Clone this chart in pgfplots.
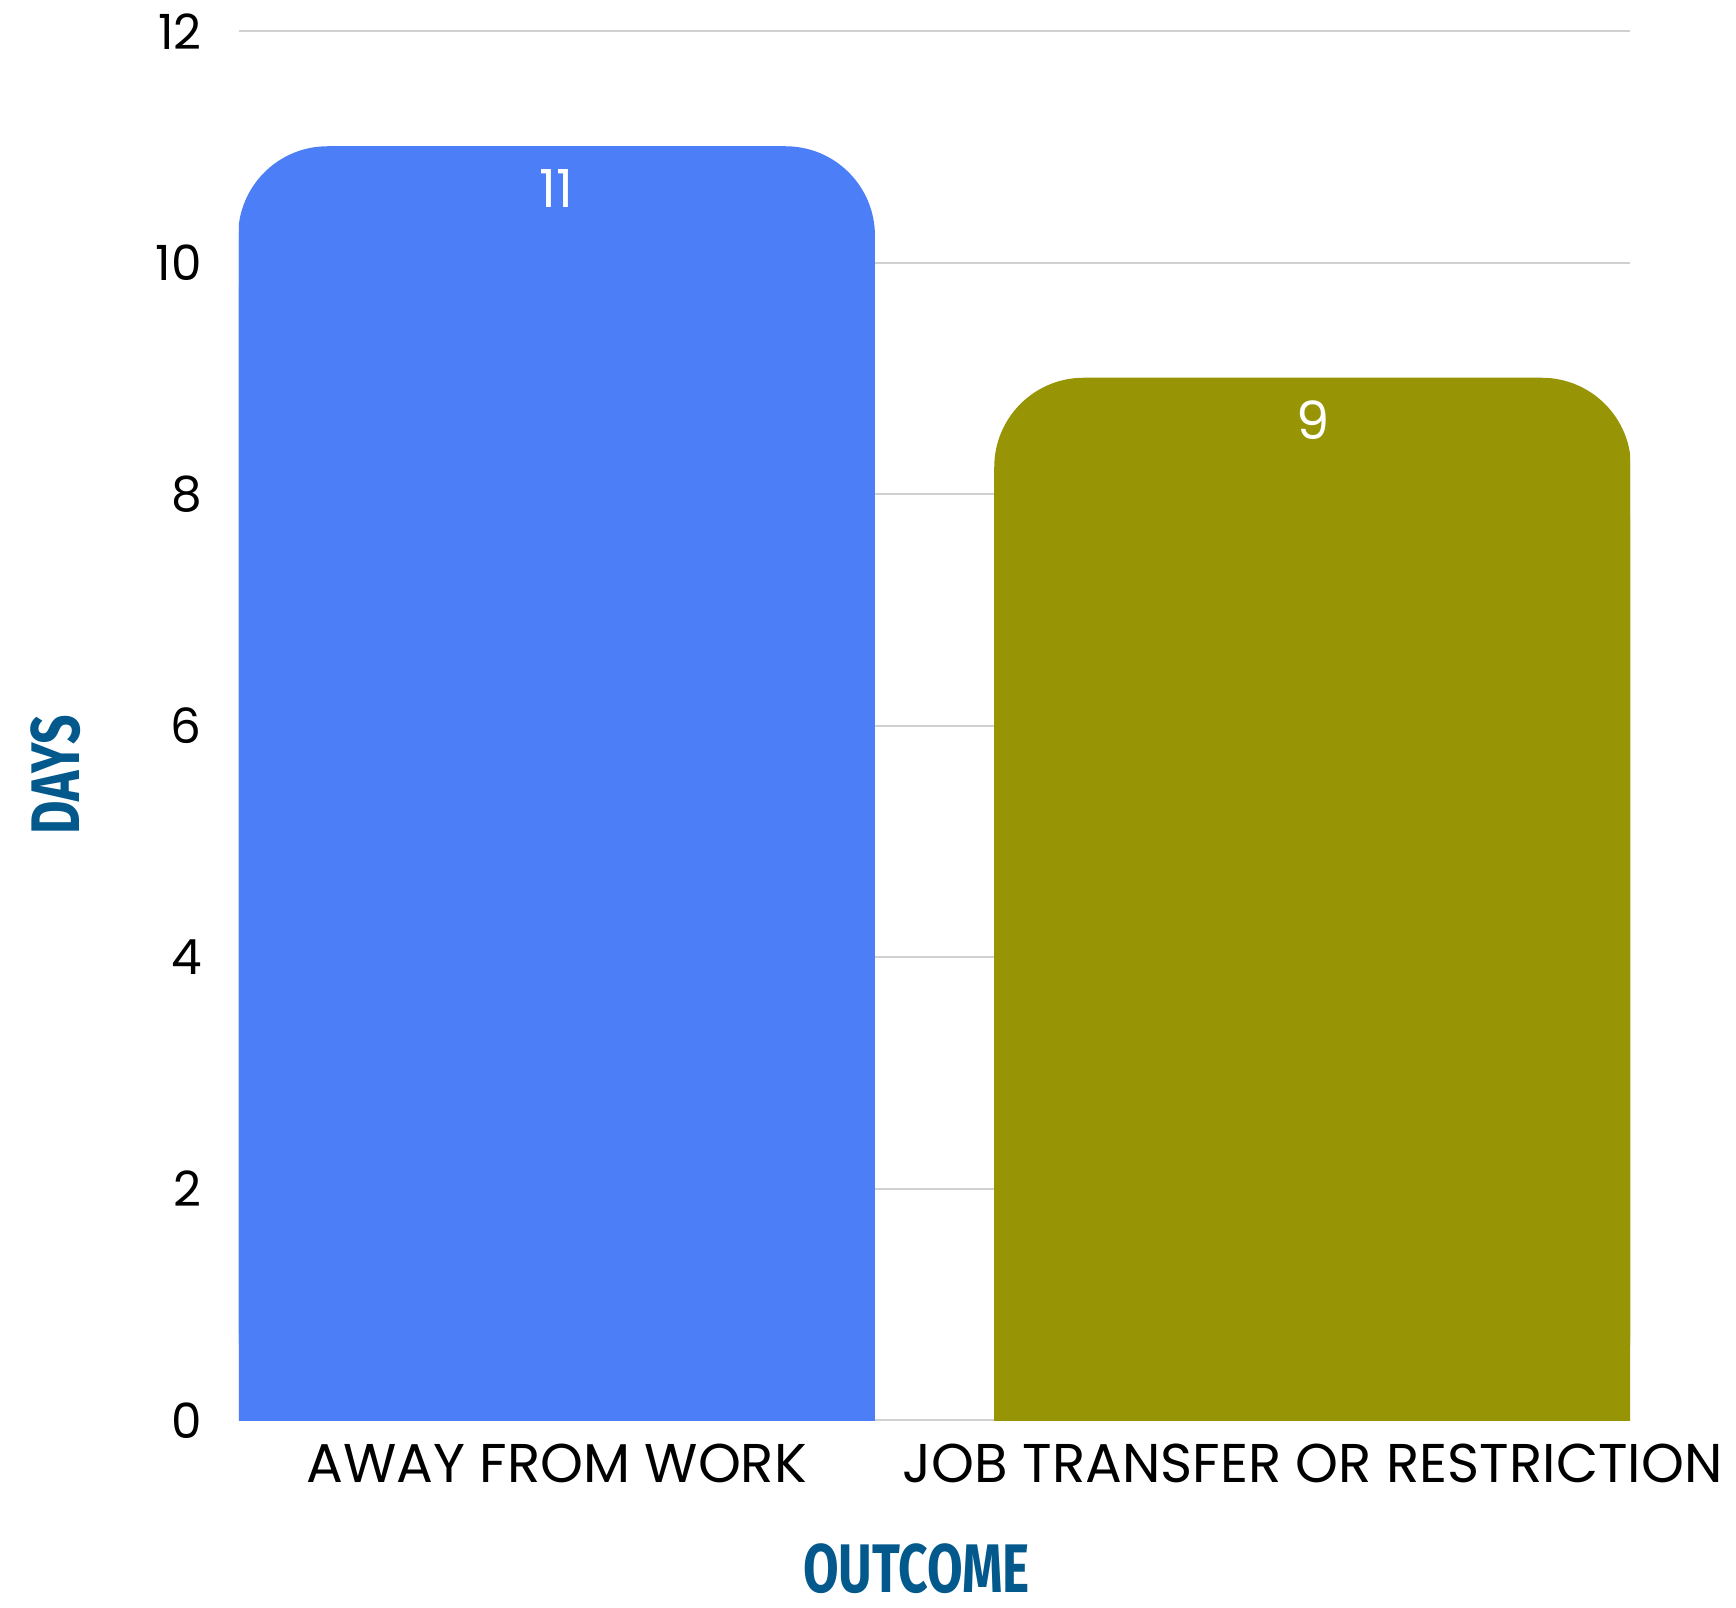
\documentclass[border=0pt]{standalone}
\usepackage{pgfplots}
\pgfplotsset{compat=1.18}
\usepackage{fontspec}
\usepackage{graphicx}
\setmainfont{Poppins}
\newfontfamily\labfont{Fira Sans}
\definecolor{barblue}{HTML}{4C7FF7}
\definecolor{barolive}{HTML}{979505}
\definecolor{labblue}{HTML}{03588C}
\begin{document}
\begin{tikzpicture}
\begin{axis}[
    width=12.09cm, height=12.07cm, scale only axis,
    ymin=0, ymax=12, ytick={0,2,...,12},
    xmin=-0.42, xmax=1.42,
    xtick={0,1},
    xticklabels={AWAY FROM WORK, JOB TRANSFER OR RESTRICTION},
    axis line style={draw=none},
    major tick length=0pt,
    ymajorgrids, grid style={black!18, line width=0.4pt},
    /pgf/number format/assume math mode=true,
    yticklabel style={font=\fontsize{12}{12}\selectfont, xshift=-0.2cm},
    xticklabel style={font=\fontsize{13.5}{14}\selectfont, yshift=-0.08cm},
    every axis y label/.style={at={(axis description cs:-0.132,0.465)}, rotate=90, anchor=center, inner ysep=7.5pt},
    every axis x label/.style={at={(axis description cs:0.487,-0.107)}, anchor=center},
    ylabel={\labfont\bfseries\color{labblue}\fontsize{17}{17}\selectfont\scalebox{0.75}[1]{DAYS}},
    xlabel={\labfont\bfseries\color{labblue}\fontsize{17}{17}\selectfont\scalebox{0.75}[1]{OUTCOME}},
    ybar, bar width=5.52cm,
]
% square lower part of each bar
\addplot[fill=barblue, draw=barblue, line width=0.4pt, bar shift=0pt, y filter/.expression={y-1.2}] coordinates {(0,11)};
\addplot[fill=barolive, draw=barolive, line width=0.4pt, bar shift=0pt, y filter/.expression={y-1.2}] coordinates {(1,9)};
% rounded top with value
\addplot[fill=barblue, draw=barblue, line width=0.4pt, bar shift=0pt, rounded corners=0.77cm,
    nodes near coords, nodes near coords style={white, anchor=north, yshift=-2pt, font=\fontsize{13}{13}\selectfont, rounded corners=0pt}] coordinates {(0,11)};
\addplot[fill=barolive, draw=barolive, line width=0.4pt, bar shift=0pt, rounded corners=0.77cm,
    nodes near coords, nodes near coords style={white, anchor=north, yshift=-2pt, font=\fontsize{13}{13}\selectfont, rounded corners=0pt}] coordinates {(1,9)};
\end{axis}
\end{tikzpicture}
\end{document}
